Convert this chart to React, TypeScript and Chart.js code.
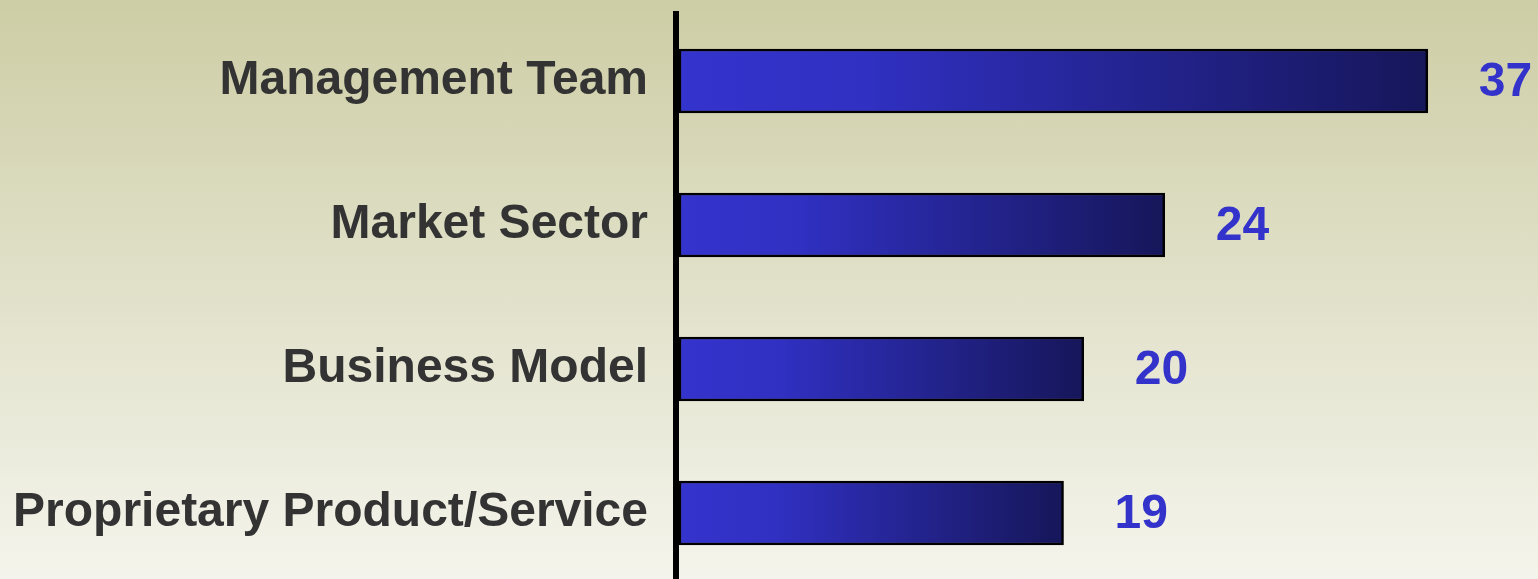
import React, { useEffect, useRef } from "react";
import { Chart, registerables } from "chart.js";

Chart.register(...registerables);

const categories = [
  "Management Team",
  "Market Sector",
  "Business Model",
  "Proprietary Product/Service",
];
const values = [37, 24, 20, 19];
const axisMax = 42;

const FONT = "'Liberation Sans', Arial, Helvetica, sans-serif";

const axisLinePlugin = {
  id: "axisLine",
  afterDatasetsDraw(chart: any) {
    const { ctx, chartArea } = chart;
    ctx.save();
    ctx.fillStyle = "#000000";
    ctx.fillRect(chartArea.left - 6, 11, 6, chart.height);
    ctx.restore();
  },
};

const valueLabelPlugin = {
  id: "valueLabels",
  afterDatasetsDraw(chart: any) {
    const { ctx } = chart;
    const meta = chart.getDatasetMeta(0);
    ctx.save();
    ctx.fillStyle = "#3333CC";
    ctx.font = `bold 48px ${FONT}`;
    ctx.textAlign = "left";
    ctx.textBaseline = "middle";
    meta.data.forEach((bar: any, i: number) => {
      ctx.fillText(String(values[i]), bar.x + 51, bar.y + 2);
    });
    ctx.restore();
  },
};

export default function App() {
  const ref = useRef<HTMLCanvasElement | null>(null);

  useEffect(() => {
    if (!ref.current) return;
    const chart = new Chart(ref.current, {
      type: "bar",
      data: {
        labels: categories,
        datasets: [
          {
            data: values,
            barThickness: 64,
            borderColor: "#000000",
            borderWidth: 2.5,
            borderSkipped: false,
            backgroundColor: (c: any) => {
              const ch = c.chart;
              if (!ch.chartArea || c.raw === undefined) return "#3333CC";
              const x0 = ch.scales.x.getPixelForValue(0);
              const x1 = ch.scales.x.getPixelForValue(c.raw);
              const g = ch.ctx.createLinearGradient(x0, 0, x1, 0);
              g.addColorStop(0, "#3434CE");
              g.addColorStop(0.25, "#3030C2");
              g.addColorStop(1, "#16165A");
              return g;
            },
          },
        ],
      },
      options: {
        indexAxis: "y",
        responsive: false,
        animation: false,
        layout: { padding: { top: 9, bottom: 1, left: 0, right: 9 } },
        plugins: {
          legend: { display: false },
          tooltip: { enabled: false },
        },
        scales: {
          x: { type: "linear", min: 0, max: axisMax, display: false },
          y: {
            type: "category",
            grid: { display: false, drawTicks: false },
            border: { display: false },
            ticks: {
              color: "#333333",
              padding: 31,
              font: { family: FONT, size: 48, weight: "bold" },
            },
            afterFit(scale: any) {
              scale.width = 679;
              scale.paddingTop = 0;
              scale.paddingBottom = 0;
            },
          },
        },
      } as any,
      plugins: [axisLinePlugin, valueLabelPlugin],
    });
    return () => chart.destroy();
  }, []);

  return (
    <div
      style={{
        position: "fixed",
        left: 0,
        top: 0,
        width: 1538,
        height: 579,
        overflow: "hidden",
        background: "linear-gradient(180deg, #CDCDA5 0%, #E1E1CA 50%, #F4F4EC 100%)",
      }}
    >
      <canvas ref={ref} width={1538} height={586} style={{ display: "block" }} />
    </div>
  );
}
